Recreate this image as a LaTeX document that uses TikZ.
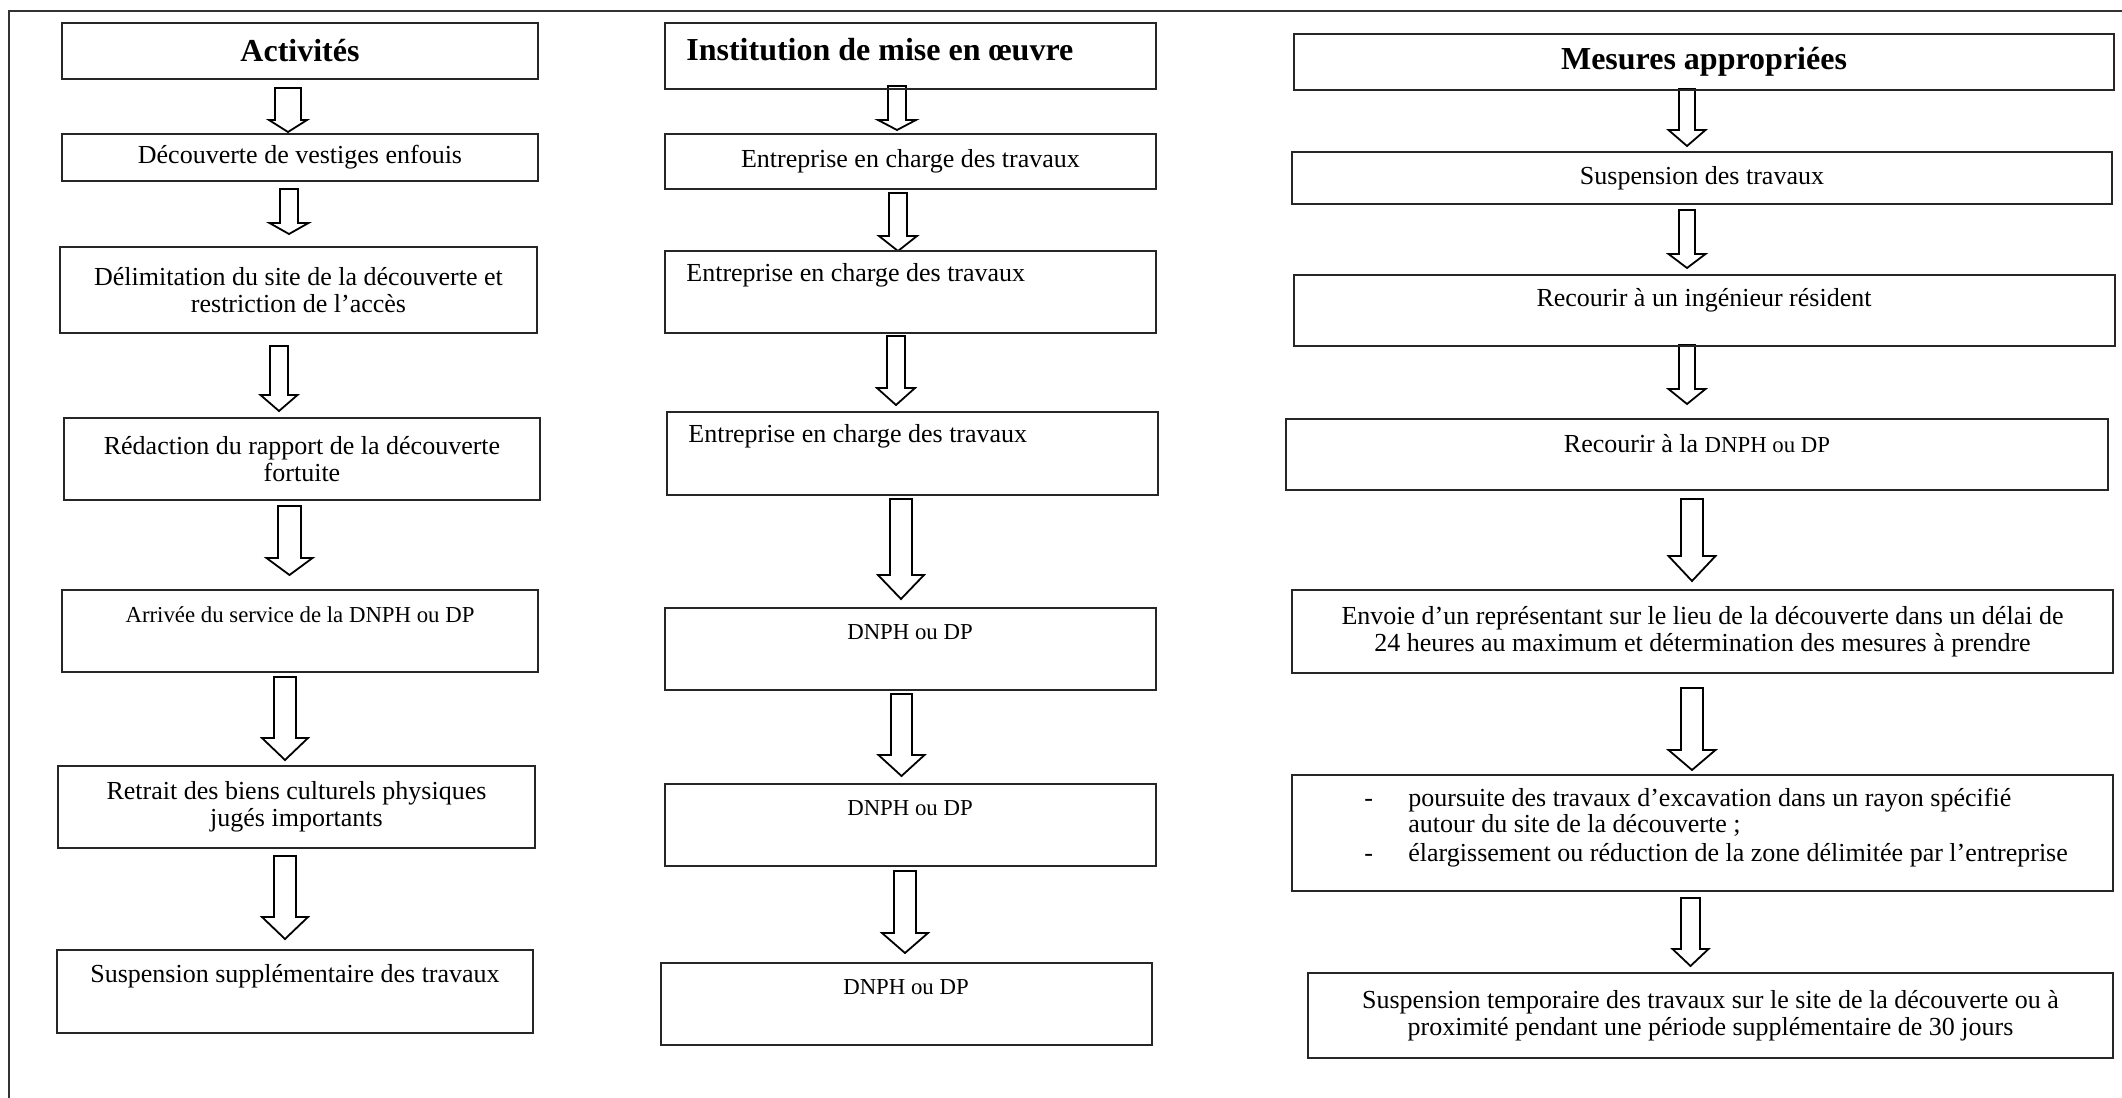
\documentclass[tikz,border=0pt]{standalone}
\usepackage{fontspec}
\setmainfont{Liberation Serif}
\usetikzlibrary{calc}
\tikzset{
  box/.style={draw=black!85, line width=1.1pt, rectangle, inner sep=0pt, outer sep=0pt, anchor=north west},
  txt/.style={font=\fontsize{13pt}{13.5pt}\selectfont, inner sep=0pt, align=center},
  ttl/.style={font=\bfseries\fontsize{16pt}{18pt}\selectfont, inner sep=0pt},
  small/.style={font=\fontsize{11.4pt}{13pt}\selectfont, inner sep=0pt},
  blk/.style={draw=black, line width=0.9pt, fill=white, line join=miter},
  frame/.style={draw=black!80, line width=1.2pt},
}
% block arrow: start coordinate, tip coordinate, shaft half width, head half width, head length (px)
\newcommand\barrow[5]{%
  \draw[blk] let \p1=(#1), \p2=(#2) in
    (\x1-#3*0.5pt,\y1) -- (\x1+#3*0.5pt,\y1) -- (\x1+#3*0.5pt,\y2+#5*0.5pt)
    -- (\x1+#4*0.5pt,\y2+#5*0.5pt) -- (\x1,\y2) -- (\x1-#4*0.5pt,\y2+#5*0.5pt)
    -- (\x1-#3*0.5pt,\y2+#5*0.5pt) -- cycle;}
\newcommand\dnph{{\fontsize{11.4pt}{13pt}\selectfont DNPH ou DP}}
\begin{document}
\begin{tikzpicture}[x=0.5pt,y=-0.5pt]
\useasboundingbox (0,0) rectangle (2122,1098);
\fill[white] (0,0) rectangle (2122,1098);
% outer frame
\coordinate (fr1) at (2122,11);
\coordinate (fr2) at (9,11);
\coordinate (fr3) at (9,1098);
\draw[frame] (fr1) -- (fr2) -- (fr3);

% ---------- arrows, column 1
\coordinate (a1t) at (288,88);   \coordinate (a1h) at (288,132);
\coordinate (a2t) at (289,189);  \coordinate (a2h) at (289,234);
\coordinate (a3t) at (279,346);  \coordinate (a3h) at (279,411);
\coordinate (a4t) at (289.5,506);\coordinate (a4h) at (289.5,575);
\coordinate (a5t) at (285,677);  \coordinate (a5h) at (285,760);
\coordinate (a6t) at (285,856);  \coordinate (a6h) at (285,939);
\barrow{a1t}{a1h}{13}{19}{12}
\barrow{a2t}{a2h}{9}{19.5}{11}
\barrow{a3t}{a3h}{9}{18.5}{16}
\barrow{a4t}{a4h}{11.5}{23}{17}
\barrow{a5t}{a5h}{11}{23}{22}
\barrow{a6t}{a6h}{11}{23}{22}
% ---------- arrows, column 2
\coordinate (b1t) at (897,86);   \coordinate (b1h) at (897,130);
\coordinate (b2t) at (898,193);  \coordinate (b2h) at (898,251);
\coordinate (b3t) at (896,336);  \coordinate (b3h) at (896,405);
\coordinate (b4t) at (901,499);  \coordinate (b4h) at (901,599);
\coordinate (b5t) at (901.5,694);\coordinate (b5h) at (901.5,776);
\coordinate (b6t) at (905,871);  \coordinate (b6h) at (905,953);
\barrow{b1t}{b1h}{9}{19}{10}
\barrow{b2t}{b2h}{9}{19}{15}
\barrow{b3t}{b3h}{9}{19}{17}
\barrow{b4t}{b4h}{11}{23}{24}
\barrow{b5t}{b5h}{10.5}{23}{21}
\barrow{b6t}{b6h}{11}{23}{20}
% ---------- arrows, column 3
\coordinate (c1t) at (1687,89);  \coordinate (c1h) at (1687,146);
\coordinate (c2t) at (1687,210); \coordinate (c2h) at (1687,268);
\coordinate (c3t) at (1687,345); \coordinate (c3h) at (1687,404);
\coordinate (c4t) at (1692,499); \coordinate (c4h) at (1692,581);
\coordinate (c5t) at (1692,688); \coordinate (c5h) at (1692,770);
\coordinate (c6t) at (1690.5,898);\coordinate (c6h) at (1690.5,966);
\barrow{c1t}{c1h}{8}{18.5}{16}
\barrow{c2t}{c2h}{8}{18.5}{14}
\barrow{c3t}{c3h}{8}{18.5}{15}
\barrow{c4t}{c4h}{11}{23.5}{25}
\barrow{c5t}{c5h}{11}{23.5}{20}
\barrow{c6t}{c6h}{9.5}{18}{17}

% ---------- column 1 boxes
\node[box, ttl, minimum width=238pt, minimum height=28pt] (act) at (62,23) {Activités};
\node[box, txt, minimum width=238pt, minimum height=23.5pt] (dec) at (62,134) {Découverte de vestiges enfouis};
\node[box, txt, minimum width=238.5pt, minimum height=43pt] (del) at (60,247) {Délimitation du site de la découverte et\\restriction de l’accès};
\node[box, txt, minimum width=238pt, minimum height=41pt] (red) at (64,418) {Rédaction du rapport de la découverte\\fortuite};
\node[box, minimum width=238pt, minimum height=41pt] (arr) at (62,590) {};
\node[small] (tarr) at (300,615) {Arrivée du service de la DNPH ou DP};
\node[box, txt, minimum width=238.5pt, minimum height=41pt] (ret) at (58,766) {Retrait des biens culturels physiques\\jugés importants};
\node[box, minimum width=238pt, minimum height=41.5pt] (sus) at (57,950) {};
\node[txt] (tsus) at (295,976) {Suspension supplémentaire des travaux};

% ---------- column 2 boxes
\node[box, minimum width=245.5pt, minimum height=33pt] (inst) at (665,23) {};
\node[ttl, anchor=west] (tinst) at (686,50) {Institution de mise en œuvre};
\node[box, txt, minimum width=245.5pt, minimum height=27.5pt] (ent1) at (665,134) {Entreprise en charge des travaux};
\node[box, minimum width=245.5pt, minimum height=41pt] (ent2) at (665,251) {};
\node[txt, anchor=west] (tent2) at (686,275) {Entreprise en charge des travaux};
\node[box, minimum width=245.5pt, minimum height=41.5pt] (ent3) at (667,412) {};
\node[txt, anchor=west] (tent3) at (688,436) {Entreprise en charge des travaux};
\node[box, minimum width=245.5pt, minimum height=41pt] (dn1) at (665,608) {};
\node[small] (tdn1) at (910,632) {DNPH ou DP};
\node[box, minimum width=245.5pt, minimum height=41pt] (dn2) at (665,784) {};
\node[small] (tdn2) at (910,808) {DNPH ou DP};
\node[box, minimum width=245.5pt, minimum height=41pt] (dn3) at (661,963) {};
\node[small] (tdn3) at (906,987) {DNPH ou DP};

% ---------- column 3 boxes
\node[box, ttl, minimum width=410pt, minimum height=28pt] (mes) at (1294,34) {Mesures appropriées};
\node[box, txt, minimum width=410pt, minimum height=26pt] (susp) at (1292,152) {Suspension des travaux};
\node[box, minimum width=410.5pt, minimum height=35.5pt] (ing) at (1294,275) {};
\node[txt] (ting) at (1704,300) {Recourir à un ingénieur résident};
\node[box, minimum width=411pt, minimum height=35.5pt] (rdn) at (1286,419) {};
\node[txt] (trdn) at (1697,444) {Recourir à la \dnph};
\node[box, txt, minimum width=410.5pt, minimum height=41.5pt] (env) at (1292,590) {Envoie d’un représentant sur le lieu de la découverte dans un délai de\\24 heures au maximum et détermination des mesures à prendre};
\node[box, minimum width=410.5pt, minimum height=58pt] (pour) at (1292,775) {};
\node[txt, align=left, anchor=west, font=\fontsize{13pt}{13pt}\selectfont] (tpour) at (1364,827.5)
  {\makebox[22pt][l]{-}poursuite des travaux d’excavation dans un rayon spécifié\\
   \hspace*{22pt}autour du site de la découverte ;\\[1.5pt]
   \makebox[22pt][l]{-}élargissement ou réduction de la zone délimitée par l’entreprise};
\node[box, txt, minimum width=402.5pt, minimum height=42.5pt] (stemp) at (1308,973) {Suspension temporaire des travaux sur le site de la découverte ou à\\proximité pendant une période supplémentaire de 30 jours};
\end{tikzpicture}
\end{document}
